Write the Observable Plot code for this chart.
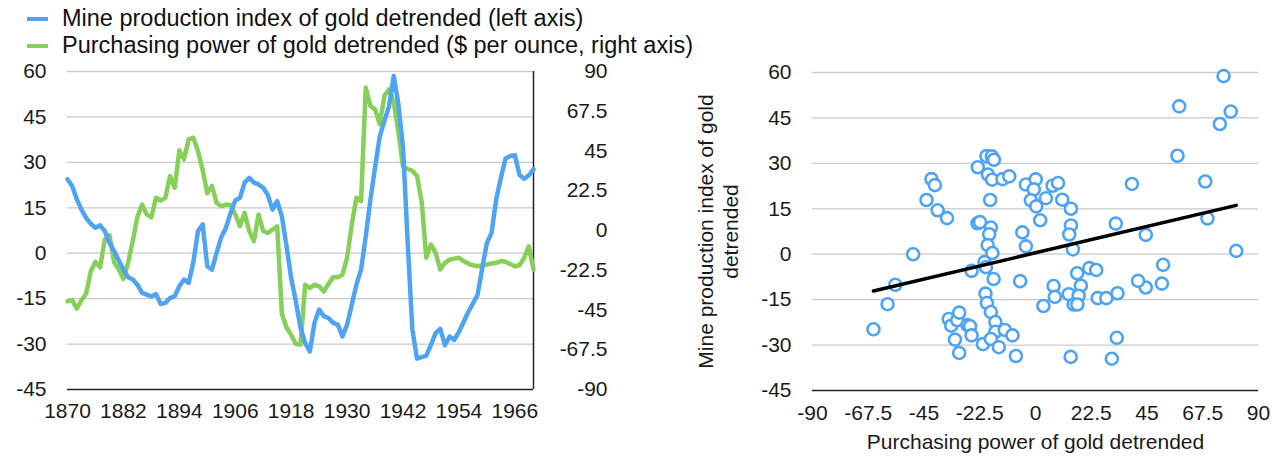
<!DOCTYPE html>
<html><head><meta charset="utf-8">
<script src="https://cdn.jsdelivr.net/npm/d3@7"></script>
<script src="https://cdn.jsdelivr.net/npm/@observablehq/plot@0.6"></script>
<style>
body{margin:0;background:#fff;font-family:"Liberation Sans",Arial,sans-serif;}
#root{position:relative;width:1272px;height:460px;overflow:hidden;background:#fff;}
.item{position:absolute;white-space:nowrap;display:flex;align-items:center;font-size:23.5px;line-height:27px;color:#111;}
.sw{display:inline-block;width:21px;height:4px;margin-right:14px;}
#left{position:absolute;left:0;top:60px;}
#right{position:absolute;left:680px;top:60px;}
</style></head><body>
<div id="root">
  <div id="legend"></div>
  <div id="left"></div>
  <div id="right"></div>
</div>
<script>
const blue = "#4ea3f3";
const green = "#86d05a";

const seriesNames = [
  "Mine production index of gold detrended (left axis)",
  "Purchasing power of gold detrended ($ per ounce, right axis)"
];

const years = [1870,1871,1872,1873,1874,1875,1876,1877,1878,1879,
1880,1881,1882,1883,1884,1885,1886,1887,1888,1889,
1890,1891,1892,1893,1894,1895,1896,1897,1898,1899,
1900,1901,1902,1903,1904,1905,1906,1907,1908,1909,
1910,1911,1912,1913,1914,1915,1916,1917,1918,1919,
1920,1921,1922,1923,1924,1925,1926,1927,1928,1929,
1930,1931,1932,1933,1934,1935,1936,1937,1938,1939,
1940,1941,1942,1943,1944,1945,1946,1947,1948,1949,
1950,1951,1952,1953,1954,1955,1956,1957,1958,1959,
1960,1961,1962,1963,1964,1965,1966,1967,1968,1969,
1970];

const mineIndex = [24.4,22.2,17.8,14.4,11.7,9.7,8.4,9.2,7.3,3.4,
0.7,-2.4,-5.4,-7.9,-8.7,-10.4,-13.1,-13.7,-14.3,-13.5,
-16.8,-16.4,-14.8,-14.2,-10.9,-8.7,-9.8,-3.0,7.3,9.5,
-4.3,-5.4,0.1,5.3,8.4,13.3,17.4,18.3,23.3,24.9,
23.3,22.7,21.6,19.2,14.4,17.2,12.2,2.3,-8.2,-15.9,
-24.6,-29.7,-32.4,-23.0,-18.6,-20.8,-21.4,-23.0,-23.6,-27.5,
-23.6,-17.0,-10.4,-5.4,5.5,17.6,28.4,38.5,43.7,48.5,
58.5,49.2,35.0,3.6,-25.1,-34.8,-34.3,-33.8,-30.2,-26.4,
-25.0,-30.4,-27.5,-28.6,-26.0,-22.7,-19.4,-16.6,-13.7,-4.9,
3.4,6.7,17.8,24.9,31.3,32.1,32.4,25.8,24.6,25.7,
27.7];

const purchasingPower = [-40.1,-39.4,-44.2,-39.4,-35.7,-23.1,-17.7,-20.9,-5.1,-2.6,
-18.0,-22.1,-27.4,-18.3,-6.0,7.7,14.7,9.1,7.5,18.5,
17.0,18.5,30.9,24.2,45.4,40.3,51.6,52.5,44.9,34.3,
21.1,25.2,15.6,13.7,14.7,14.4,9.1,2.4,10.0,-0.3,
-6.0,9.1,-0.3,-1.4,0.5,2.4,-47.1,-54.9,-59.1,-64.3,
-64.6,-30.7,-32.6,-30.7,-31.5,-34.5,-30.2,-26.4,-26.4,-25.0,
-15.4,3.4,18.5,16.6,80.9,70.5,68.6,60.2,76.1,79.9,
72.9,55.7,36.0,34.8,33.8,30.9,16.3,-15.4,-7.9,-12.7,
-22.1,-18.3,-16.5,-15.9,-15.4,-17.3,-18.7,-19.7,-20.2,-19.7,
-19.2,-18.7,-18.3,-17.3,-17.7,-19.0,-20.2,-19.7,-15.4,-8.9,
-22.1];

const yearTicks = [1870,1882,1894,1906,1918,1930,1942,1954,1966];
const leftTicks = [60,45,30,15,0,-15,-30,-45];
const rightTicks = [90,67.5,45,22.5,0,-22.5,-45,-67.5,-90];
const scatterXTicks = [-90,-67.5,-45,-22.5,0,22.5,45,67.5,90];

const scatterX = [-65.4,-59.7,-56.6,-49.4,-44.0,-42.0,-40.6,-39.5,-35.7,-35.0,
-34.0,-31.6,-30.8,-32.5,-30.8,-27.5,-26.4,-25.8,-25.8,-23.3,
-23.4,-22.4,-21.2,-20.6,-20.0,-20.2,-19.6,-18.0,-16.2,-16.2,
-18.0,-14.8,-12.4,-9.3,-7.9,-16.9,-19.8,-17.6,-16.8,-19.2,
-17.5,-13.3,-10.6,-18.3,-18.0,-18.7,-19.3,-17.4,-6.2,-5.3,
-3.9,-3.9,0.1,-0.7,-1.9,0.3,4.2,6.9,9.1,10.8,
14.3,1.9,14.3,13.6,15.1,3.2,7.3,7.8,13.4,16.8,
18.3,17.4,15.4,16.9,21.7,24.5,25.1,28.6,33.1,14.2,
30.8,32.8,32.4,38.9,44.5,51.5,51.0,44.5,41.4,57.3,
58.0,68.5,69.4,75.9,78.8,74.4,81.0];
const scatterY = [-24.8,-16.5,-10.1,0,17.9,24.8,22.8,14.5,11.9,-21.4,
-23.6,-21.8,-19.3,-28.2,-32.6,-23.4,-23.8,-26.8,-5.5,28.7,
10.2,10.6,-29.7,-2.6,-4.3,-13.0,-16.1,-19.1,-22.4,-25.6,
-28.0,-30.7,-25.0,-26.8,-33.6,-8.2,32.4,32.3,31.2,26.3,
24.6,24.8,25.7,17.9,8.8,6.6,3.0,0.4,-8.9,7.2,
2.6,23.0,24.7,21.4,17.8,15.8,18.5,22.6,23.5,18.0,
15.0,11.2,9.5,6.5,1.6,-17.1,-10.5,-14.1,-13.2,-6.3,
-10.4,-13.7,-16.6,-16.6,-4.6,-5.2,-14.5,-14.5,-12.9,-33.9,
-34.5,-27.6,10.1,23.2,6.4,-3.5,-9.7,-11.0,-8.8,32.5,
48.8,24.0,11.8,58.8,47.1,43.0,1.1];

const xTitle = "Purchasing power of gold detrended";
const yTitle = "Mine production index of gold\ndetrended";

// legend
const legend = document.getElementById("legend");
[[seriesNames[0], blue, 5], [seriesNames[1], green, 32]].forEach(([t, c, top]) => {
  const d = document.createElement("div");
  d.className = "item";
  d.style.left = "27px";
  d.style.top = top + "px";
  d.innerHTML = `<span class="sw" style="background:${c}"></span>`;
  d.appendChild(document.createTextNode(t));
  legend.appendChild(d);
});

const fmt = (v) => String(Math.round(v * 10) / 10 + 0);
const style = {fontFamily: '"Liberation Sans", Arial, sans-serif', fontSize: "21px", color: "#1a1a1a", background: "transparent", overflow: "visible"};
const gridColor = "#c9c9c9";

// secondary axis mapping ($ -> left axis units)
const toLeft = d3.scaleLinear().domain([-90, 90]).range([-45, 60]);
const lineData = years.map((y, i) => ({year: y, mine: mineIndex[i], power: purchasingPower[i]}));

const left = Plot.plot({
  width: 640, height: 380,
  marginLeft: 67, marginRight: 107, marginTop: 11, marginBottom: 51,
  style,
  x: {domain: [1870, 1970]},
  y: {domain: [-45, 60]},
  marks: [
    Plot.gridY(leftTicks.filter(t => t > -45), {stroke: gridColor, strokeOpacity: 1, strokeWidth: 1.3}),
    Plot.ruleY([-45], {stroke: "#222", strokeWidth: 1.5}),
    Plot.ruleX([1970], {stroke: "#222", strokeWidth: 1.5}),
    Plot.axisY(leftTicks, {anchor: "left", tickSize: 0, tickPadding: 21, tickFormat: fmt, label: null}),
    Plot.axisY(rightTicks.map(v => toLeft(v)), {anchor: "right", tickSize: 0, tickPadding: 0, textAnchor: "end", dx: 74, tickFormat: d => fmt(toLeft.invert(d)), label: null}),
    Plot.axisX(yearTicks, {tickSize: 0, tickPadding: 14, tickFormat: d => String(d), label: null}),
    Plot.line(lineData, {x: "year", y: d => toLeft(d.power), stroke: green, strokeWidth: 4.5, strokeLinejoin: "round"}),
    Plot.line(lineData, {x: "year", y: "mine", stroke: blue, strokeWidth: 4.5, strokeLinejoin: "round"})
  ]
});
document.getElementById("left").appendChild(left);

const pts = scatterX.map((x, i) => ({x, y: scatterY[i]}));
const right = Plot.plot({
  width: 592, height: 400,
  marginLeft: 132, marginRight: 14, marginTop: 12, marginBottom: 70,
  style,
  x: {domain: [-90, 90]},
  y: {domain: [-45, 60]},
  marks: [
    Plot.gridY(leftTicks.filter(t => t > -45), {stroke: gridColor, strokeOpacity: 1, strokeWidth: 1.3}),
    Plot.ruleY([-45], {stroke: "#222", strokeWidth: 1.5}),
    Plot.axisY(leftTicks, {anchor: "left", tickSize: 0, tickPadding: 21, tickFormat: fmt, label: null}),
    Plot.axisX(scatterXTicks, {tickSize: 0, tickPadding: 15, tickFormat: fmt, label: null}),
    Plot.text([xTitle], {frameAnchor: "bottom", lineAnchor: "middle", dy: 52, text: d => d, fill: "#1a1a1a"}),
    Plot.text([yTitle], {frameAnchor: "left", textAnchor: "middle", lineAnchor: "middle", dx: -95, rotate: -90, text: d => d, lineHeight: 1.2, fill: "#1a1a1a"}),
    Plot.dot(pts, {x: "x", y: "y", r: 6, stroke: blue, strokeWidth: 2.6, fill: "white"}),
    Plot.linearRegressionY(pts, {x: "x", y: "y", stroke: "#000", strokeWidth: 3.5, ci: 0})
  ]
});
document.getElementById("right").appendChild(right);
</script>
</body></html>
